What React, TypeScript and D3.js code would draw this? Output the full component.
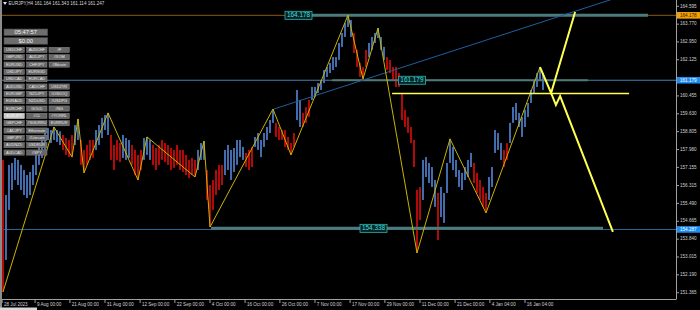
import React from 'react';
import * as d3 from 'd3';

// ---- data ----
const symbolTitle = 'EURJPY,H4  161.164 161.343 161.114 161.247';

const highs = [
  157.50, 155.88, 157.27, 157.36, 157.59, 157.50, 157.27, 157.03, 156.80, 156.94,
  157.27, 157.73, 158.19, 158.51, 158.88, 158.97, 158.88, 159.02, 158.88, 158.82,
  158.65, 158.51, 158.42, 158.65, 159.11, 159.39, 158.42, 157.96, 158.19, 158.42,
  158.42, 158.88, 159.11, 159.44, 159.57, 159.67, 158.65, 158.19, 158.42, 158.28,
  158.65, 158.51, 158.42, 158.19, 157.96, 157.73, 157.96, 158.51, 158.56, 158.42,
  158.19, 158.05, 158.19, 158.42, 158.28, 158.19, 158.05, 157.96, 158.19, 157.96,
  157.96, 157.73, 157.50, 157.59, 157.50, 157.96, 158.28, 158.37, 157.03, 156.34,
  156.57, 157.03, 157.27, 157.27, 157.96, 158.19, 157.96, 158.05, 158.42, 158.42,
  158.10, 157.82, 157.96, 158.10, 158.56, 158.74, 158.42, 158.74, 159.02, 159.34,
  159.85, 159.21, 159.02, 158.88, 158.88, 158.56, 158.28, 158.74, 160.73, 160.27,
  159.67, 159.94, 160.27, 160.87, 160.87, 161.05, 161.19, 161.65, 161.79, 161.98,
  162.25, 162.25, 162.90, 163.36, 163.82, 164.19, 163.96, 163.36, 162.58, 161.98,
  161.79, 162.58, 162.90, 163.18, 163.36, 163.59, 163.18, 162.72, 162.25, 162.12,
  161.79, 161.79, 161.51, 160.59, 159.81, 159.48, 159.02, 158.42, 156.11, 156.25,
  157.50, 157.63, 157.36, 157.17, 156.57, 155.97, 156.25, 155.97, 157.36, 158.47,
  158.10, 157.50, 157.03, 156.90, 157.17, 157.50, 157.82, 157.36, 156.90, 156.57,
  156.25, 155.97, 156.71, 157.17, 158.88, 158.74, 158.28, 157.96, 158.28, 159.21,
  159.94, 160.13, 159.67, 159.48, 159.81, 160.13, 160.73, 161.19, 161.51, 161.79,
  161.51,
];

const lows = [
  151.40, 152.88, 155.19, 156.11, 156.57, 156.34, 156.11, 155.88, 155.74, 155.88,
  156.34, 156.80, 157.27, 157.59, 157.96, 158.42, 158.28, 158.42, 158.33, 158.19,
  157.96, 157.73, 157.63, 157.63, 158.19, 158.42, 157.27, 156.90, 157.27, 157.50,
  157.59, 157.96, 158.19, 158.51, 158.88, 158.65, 157.50, 157.03, 157.50, 157.40,
  157.59, 157.50, 157.59, 157.27, 156.80, 156.57, 157.03, 157.50, 157.73, 157.50,
  157.27, 157.03, 157.27, 157.50, 157.40, 157.27, 157.03, 157.13, 157.27, 157.03,
  156.94, 156.80, 156.66, 156.80, 156.71, 157.03, 157.50, 157.50, 155.65, 154.40,
  155.19, 155.88, 156.11, 156.34, 156.80, 157.03, 156.57, 156.94, 157.27, 157.63,
  157.50, 157.17, 157.03, 157.17, 158.10, 157.96, 157.63, 158.10, 158.42, 158.74,
  159.21, 158.56, 158.42, 158.42, 158.10, 157.96, 157.73, 158.10, 159.34, 159.02,
  159.02, 159.21, 159.48, 160.27, 160.41, 160.59, 160.73, 161.05, 161.33, 161.51,
  161.65, 161.79, 162.12, 162.72, 163.18, 163.64, 163.18, 162.44, 161.79, 161.33,
  161.24, 161.79, 162.25, 162.58, 162.90, 163.13, 162.58, 162.12, 161.65, 161.51,
  161.19, 160.87, 160.87, 159.34, 159.02, 158.74, 158.28, 157.17, 153.20, 154.72,
  155.65, 156.71, 156.43, 156.25, 155.33, 153.80, 154.86, 154.59, 155.97, 157.36,
  157.03, 156.71, 156.25, 156.11, 156.57, 156.71, 157.17, 156.43, 155.97, 155.65,
  155.33, 155.05, 155.65, 156.25, 157.82, 157.96, 157.50, 157.17, 157.50, 158.28,
  159.21, 159.34, 159.02, 158.56, 159.02, 159.48, 160.13, 160.59, 160.87, 161.19,
  160.73,
];

// runs of bar colour: [count, direction]
const colorRuns: [number, string][] = [
  [1, 'd'], [19, 'u'], [4, 'd'], [2, 'u'], [5, 'd'], [5, 'u'], [4, 'd'], [3, 'u'],
  [4, 'd'], [3, 'u'], [15, 'd'], [3, 'u'], [6, 'd'], [7, 'u'], [3, 'd'], [7, 'u'],
  [7, 'd'], [2, 'u'], [3, 'd'], [14, 'u'], [5, 'd'], [6, 'u'], [12, 'd'], [5, 'u'],
  [1, 'd'], [11, 'u'], [5, 'd'], [5, 'u'], [2, 'd'], [12, 'u'],
];

// zigzag vertices: [bar index, price]
const zigzagBars = [0, 17, 23, 25, 27, 35, 45, 48, 64, 67, 69, 90, 96, 115, 120, 125, 138, 149, 161, 179];
const zigzagPrices = [151.40, 159.02, 157.63, 159.39, 156.90, 159.67, 156.57, 158.56, 156.71, 158.37,
  154.40, 159.85, 157.73, 164.19, 161.24, 163.59, 153.20, 158.47, 155.05, 161.79];

// projected paths (bold yellow)
const projUpBars = [179, 182.7, 190.7];
const projUpPrices = [161.79, 160.59, 164.33];
const projDownBars = [182.7, 184.3, 185.7, 203.3];
const projDownPrices = [160.59, 160.04, 160.45, 154.17];

// yellow horizontal level
const yellowLevelPrice = 160.57;
const yellowLevelBars = [129.7, 208.7];

// trend line anchors
const trendBars = [90.3, 175];
const trendPrices = [159.85, 163.66];

// full-width horizontal lines
const hLinePrices = [164.178, 161.179, 154.287];

// teal levels with labels
const levelPrices = [164.178, 161.179, 154.338];
const levelFrom = [94, 109.7, 69.3];
const levelTo = [215, 195, 200];
const levelLabelBar = [94, 131.8, 119];
const levelThick = [3, 2, 3];

// right axis
const yTicks = [164.595, 163.770, 162.950, 162.125, 160.455, 159.630, 158.805, 157.980,
  157.155, 156.315, 155.490, 154.665, 153.840, 153.015, 152.190, 151.365];
const axisLabelPrices = [164.178, 161.179, 154.287];
const axisLabelBg = ['#f5a000', '#1e8cf0', '#1e8cf0'];
const axisLabelFg = ['#1a1a1a', '#ffffff', '#ffffff'];

// bottom axis
const xTickBars = [-0.3, 10.7, 22.3, 34, 45.7, 57.3, 69, 80.7, 92.3, 104, 115.7, 127.3, 139, 150.7, 162.3, 174];
const xTickLabels = ['28 Jul 2023', '9 Aug 00:00', '21 Aug 00:00', '31 Aug 00:00', '12 Sep 00:00',
  '22 Sep 00:00', '4 Oct 00:00', '16 Oct 00:00', '26 Oct 00:00', '7 Nov 00:00', '17 Nov 00:00',
  '29 Nov 00:00', '11 Dec 00:00', '21 Dec 00:00', '4 Jan 04:00', '16 Jan 04:00'];

// panel
const clockText = '05:47:57';
const balanceText = '$0.00';
const buttonCol1 = ['USDCHF', 'GBPUSD', 'EURUSD', 'USDJPY', 'USDCAD', 'AUDUSD', 'EURGBP', 'EURAUD',
  'EURCHF', 'EURJPY', 'GBPCHF', 'CADJPY', 'GBPJPY', 'AUDNZD', 'AUDCAD'];
const buttonCol2 = ['AUDCHF', 'AUDJPY', 'CHFJPY', 'EURSGD', 'EURCAD', 'CADCHF', 'NZDJPY', 'NZDUSD',
  'GOLD', '#CL', '#SGDRRU', 'Ethereum', '#Litecoin', 'USDRUR', '#SPY'];
const buttonCol3 = ['#F', '#XOM', '#Bitcoin', '', '', 'USD2YR', '#USDOQ', '#USDPG',
  '#NG', '#YORRL', 'EURRUR', '', '', '', ''];
const activeSymbol = 'EURJPY';

const FONT = '"Liberation Sans", Arial, sans-serif';

export default function App() {
  const W = 700, H = 310;
  const plotL = 2, plotR = 676, plotT = 0, plotB = 299;

  const x = d3.scaleLinear().domain([0, 180]).range([3, 543]);
  const y = d3.scaleLinear().domain([151.365, 164.595]).range([292.7, 6.3]);

  const dirs: string[] = [];
  colorRuns.forEach(([n, d]) => { for (let k = 0; k < n; k++) dirs.push(d); });

  const line = d3.line<[number, number]>().x(d => x(d[0])).y(d => y(d[1]));
  const zz = zigzagBars.map((b, i) => [b, zigzagPrices[i]] as [number, number]);
  const pu = projUpBars.map((b, i) => [b, projUpPrices[i]] as [number, number]);
  const pd = projDownBars.map((b, i) => [b, projDownPrices[i]] as [number, number]);

  // trend ray extended to the right edge
  const tx0 = x(trendBars[0]), ty0 = y(trendPrices[0]);
  const tx1 = x(trendBars[1]), ty1 = y(trendPrices[1]);
  const slope = (ty1 - ty0) / (tx1 - tx0);
  const txEnd = plotR;
  const tyEnd = ty0 + slope * (txEnd - tx0);

  const btnX = [4, 26.7, 49];
  const btnW = 20.3;
  const btnTop = 47.3;
  const btnStep = 7.33;
  const btnH = 5.2;
  const cols = [buttonCol1, buttonCol2, buttonCol3];

  return (
    <svg width={W} height={H} style={{ position: 'fixed', left: 0, top: 0, background: '#000' }}
      fontFamily={FONT}>
      <defs>
        <clipPath id="plot">
          <rect x={plotL} y={plotT} width={plotR - plotL} height={plotB - plotT} />
        </clipPath>
      </defs>
      <rect x={0} y={0} width={W} height={H} fill="#000" />
      <rect x={0} y={0} width={2} height={H} fill="#8c8c8c" />

      <g clipPath="url(#plot)">
        {/* full width lines */}
        <line x1={plotL} x2={plotR} y1={y(hLinePrices[0])} y2={y(hLinePrices[0])} stroke="#8a5a12" strokeWidth={1} />
        <line x1={plotL} x2={plotR} y1={y(hLinePrices[1])} y2={y(hLinePrices[1])} stroke="#4682b4" strokeWidth={1} />
        <line x1={plotL} x2={plotR} y1={y(hLinePrices[2])} y2={y(hLinePrices[2])} stroke="#2d6a9a" strokeWidth={1} />

        {/* candles */}
        {highs.map((h, i) => (
          <rect key={i} x={x(i) - 0.9} width={1.8} y={y(h)} height={Math.max(1, y(lows[i]) - y(h))}
            fill={dirs[i] === 'u' ? '#4a78bf' : '#c80a0a'} />
        ))}

        {/* teal levels */}
        {levelPrices.map((p, i) => (
          <line key={i} x1={x(levelFrom[i])} x2={x(levelTo[i])} y1={y(p)} y2={y(p)}
            stroke="#4d7a7a" strokeWidth={levelThick[i]} />
        ))}

        {/* trend line */}
        <line x1={tx0} y1={ty0} x2={txEnd} y2={tyEnd} stroke="#1f5fa0" strokeWidth={1} />

        {/* zigzag */}
        <path d={line(zz) || ''} fill="none" stroke="#c8b400" strokeWidth={1} />

        {/* yellow level + projections */}
        <line x1={x(yellowLevelBars[0])} x2={x(yellowLevelBars[1])} y1={y(yellowLevelPrice)} y2={y(yellowLevelPrice)}
          stroke="#ffff50" strokeWidth={1.6} />
        <path d={line(pu) || ''} fill="none" stroke="#ffff50" strokeWidth={2} />
        <path d={line(pd) || ''} fill="none" stroke="#ffff50" strokeWidth={2} />

        {/* level labels */}
        {levelPrices.map((p, i) => (
          <g key={'ll' + i}>
            <rect x={x(levelLabelBar[i])} y={y(p) - 4} width={27} height={8} fill="#062222" stroke="#2fb5b5" strokeWidth={0.8} />
            <text x={x(levelLabelBar[i]) + 13.5} y={y(p) + 0.3} fontSize={6.4} fill="#3fe0e0" textAnchor="middle"
              dominantBaseline="middle">{p.toFixed(3)}</text>
          </g>
        ))}
      </g>

      {/* axes */}
      <line x1={plotR + 0.5} x2={plotR + 0.5} y1={0} y2={plotB} stroke="#a0a0a0" strokeWidth={1} />
      <line x1={plotL} x2={plotR + 0.5} y1={plotB + 0.5} y2={plotB + 0.5} stroke="#a0a0a0" strokeWidth={1} />
      {yTicks.map((t, i) => (
        <g key={'yt' + i}>
          <line x1={plotR} x2={plotR + 3} y1={y(t)} y2={y(t)} stroke="#a0a0a0" />
          <text x={680} y={y(t)} fontSize={4.6} fill="#d0d0d0" dominantBaseline="middle">{t.toFixed(3)}</text>
        </g>
      ))}
      {axisLabelPrices.map((p, i) => (
        <g key={'al' + i}>
          <rect x={677} y={y(p) - 3.3} width={23} height={6.6} fill={axisLabelBg[i]} />
          <text x={680} y={y(p) + 0.2} fontSize={4.6} fill={axisLabelFg[i]} dominantBaseline="middle">{p.toFixed(3)}</text>
        </g>
      ))}
      {xTickBars.map((b, i) => (
        <g key={'xt' + i}>
          <line x1={x(b)} x2={x(b)} y1={plotB} y2={plotB + 4} stroke="#a0a0a0" />
          <text x={x(b) + 1.8} y={305} fontSize={4.6} fill="#d0d0d0" dominantBaseline="middle">{xTickLabels[i]}</text>
        </g>
      ))}
      <rect x={0} y={307.5} width={37} height={2.5} fill="#d8d8d8" />

      {/* title */}
      <path d="M3,2 L7,2 L5,5 Z" fill="#e0e0e0" />
      <text x={8.5} y={3.6} fontSize={4.6} fill="#d8d8d8" dominantBaseline="middle">{symbolTitle}</text>

      {/* panel */}
      <rect x={4} y={29} width={43.7} height={6.5} fill="#6e6e6e" stroke="#4a4a4a" strokeWidth={0.6} />
      <text x={25.8} y={32.4} fontSize={5.8} fill="#f0f0f0" textAnchor="middle" dominantBaseline="middle">{clockText}</text>
      <rect x={4} y={37.7} width={43.7} height={6.5} fill="#6e6e6e" stroke="#4a4a4a" strokeWidth={0.6} />
      <text x={25.8} y={41.1} fontSize={5.8} fill="#f0f0f0" textAnchor="middle" dominantBaseline="middle">{balanceText}</text>
      {cols.map((col, c) => col.map((lab, r) => lab ? (
        <g key={'b' + c + '_' + r}>
          <rect x={btnX[c]} y={btnTop + r * btnStep} width={btnW} height={btnH}
            fill={lab === activeSymbol ? '#c8c8c8' : '#666666'} stroke={lab === activeSymbol ? '#e8e8e8' : '#8a8a8a'} strokeWidth={0.5} />
          <text x={btnX[c] + btnW / 2} y={btnTop + r * btnStep + btnH / 2 + 0.2} fontSize={3.9}
            fill={lab === activeSymbol ? '#f8f8f8' : '#e8e8e8'} textAnchor="middle" dominantBaseline="middle">{lab}</text>
        </g>
      ) : null))}
    </svg>
  );
}
